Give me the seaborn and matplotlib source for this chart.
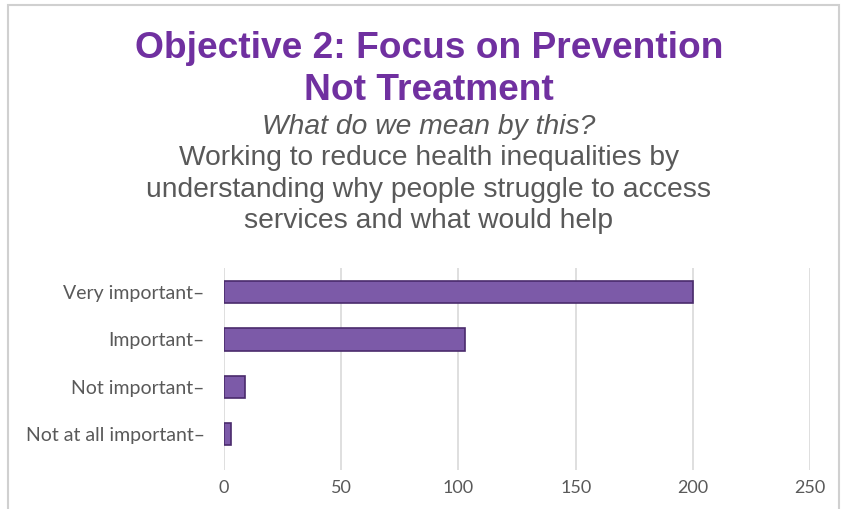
import matplotlib
matplotlib.use("Agg")
import matplotlib.pyplot as plt
import seaborn as sns
import pandas as pd
from matplotlib.patches import Rectangle

# Survey responses
categories = ['Very important', 'Important', 'Not important', 'Not at all important']
counts = [200, 103, 9, 3]
x_ticks = [0, 50, 100, 150, 200, 250]

df = pd.DataFrame({'Response': categories, 'Count': counts})

sns.set_style('white')
plt.rcParams['font.family'] = ['Liberation Sans', 'DejaVu Sans']

fig = plt.figure(figsize=(8.43, 5.09), dpi=100)
ax = fig.add_axes([0.2657, 0.0766, 0.961 - 0.2657, 0.4735 - 0.0766])

sns.barplot(data=df, y='Response', x='Count', order=categories, orient='h',
            color='#7C5AA8', edgecolor='#4A2B6C', linewidth=1.2,
            width=0.47, saturation=1, ax=ax)

ax.set_xlim(0, 250)
ax.set_ylim(3.76, -0.51)
ax.set_xticks(x_ticks)
ax.set_xticklabels([str(t) for t in x_ticks])
ax.set_yticks(range(len(categories)))
ax.set_yticklabels([c + '\u2013' for c in categories])
ax.grid(axis='x', color='#D9D9D9', linewidth=1.2)
ax.set_axisbelow(True)
for s in ax.spines.values():
    s.set_visible(False)
ax.tick_params(axis='both', length=0, labelcolor='#595959', labelsize=13)
ax.tick_params(axis='y', labelsize=14, pad=14)
ax.tick_params(axis='x', pad=7)
for lbl in ax.get_xticklabels() + ax.get_yticklabels():
    lbl.set_family(['Lato', 'DejaVu Sans'])
ax.set_xlabel('')
ax.set_ylabel('')

# titles
cx = 429 / 843
fig.text(cx, 1 - 48 / 509, 'Objective 2: Focus on Prevention', ha='center', va='center',
         fontsize=26.7, fontweight='bold', color='#7030A0')
fig.text(cx, 1 - 90 / 509, 'Not Treatment', ha='center', va='center',
         fontsize=26.7, fontweight='bold', color='#7030A0')
fig.text(cx, 1 - 127 / 509, 'What do we mean by this?', ha='center', va='center',
         fontsize=20.3, style='italic', color='#595959')
fig.text(cx, 1 - 158 / 509, 'Working to reduce health inequalities by', ha='center', va='center',
         fontsize=20.3, color='#595959')
fig.text(cx, 1 - 190 / 509, 'understanding why people struggle to access', ha='center', va='center',
         fontsize=20.3, color='#595959')
fig.text(cx, 1 - 221 / 509, 'services and what would help', ha='center', va='center',
         fontsize=20.3, color='#595959')

# chart frame
fig.patches.append(Rectangle((0.01, -0.02), 0.985, 1.01, transform=fig.transFigure,
                             fill=False, edgecolor='#D0D0D0', linewidth=1.5))

fig.savefig('out.png', dpi=100)
